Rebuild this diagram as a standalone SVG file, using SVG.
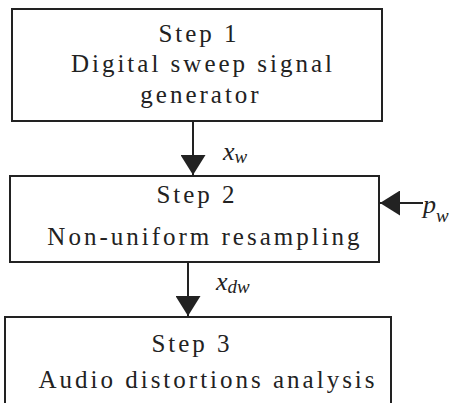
<svg xmlns="http://www.w3.org/2000/svg" width="459" height="403" viewBox="0 0 459 403">
<defs>
<style>
.box{fill:#fff;stroke:#222;stroke-width:2}
.t{font-size:25px;fill:#222;text-anchor:middle;letter-spacing:3px}
.v{font-size:26px;font-style:italic;fill:#222}
.s{font-size:19px}
.ln{stroke:#222;stroke-width:2;fill:none}
</style>
<marker id="ah" viewBox="0 0 20 25" refX="20" refY="12.5" markerWidth="20" markerHeight="25" markerUnits="userSpaceOnUse" orient="auto">
<path d="M0,0 L20,12.5 L0,25 Z" fill="#222"/>
</marker>
</defs>
<g font-family="Liberation Serif, Times New Roman, serif">
<g id="step1">
<rect class="box" x="12" y="9" width="370" height="112"/>
<text class="t" x="199" y="42">Step 1</text>
<text class="t" x="203" y="72">Digital sweep signal</text>
<text class="t" x="201" y="103">generator</text>
</g>
<g id="step2">
<rect class="box" x="10" y="176" width="369" height="86"/>
<text class="t" x="197" y="203">Step 2</text>
<text class="t" x="205" y="245">Non-uniform resampling</text>
</g>
<g id="step3">
<rect class="box" x="5" y="317" width="386" height="100"/>
<text class="t" x="192" y="352">Step 3</text>
<text class="t" x="208" y="388">Audio distortions analysis</text>
</g>
<g id="connectors">
<line class="ln" x1="193" y1="122" x2="193" y2="175" marker-end="url(#ah)"/>
<line class="ln" x1="188" y1="263" x2="188" y2="316" marker-end="url(#ah)"/>
<line class="ln" x1="423" y1="203" x2="380" y2="203" marker-end="url(#ah)"/>
</g>
<g id="labels">
<text class="v" x="223" y="160">x<tspan class="s" dy="3">w</tspan></text>
<text class="v" x="216" y="290">x<tspan class="s" dy="3">dw</tspan></text>
<text class="v" x="423" y="213">p<tspan class="s" dy="9">w</tspan></text>
</g>
</g>
</svg>
